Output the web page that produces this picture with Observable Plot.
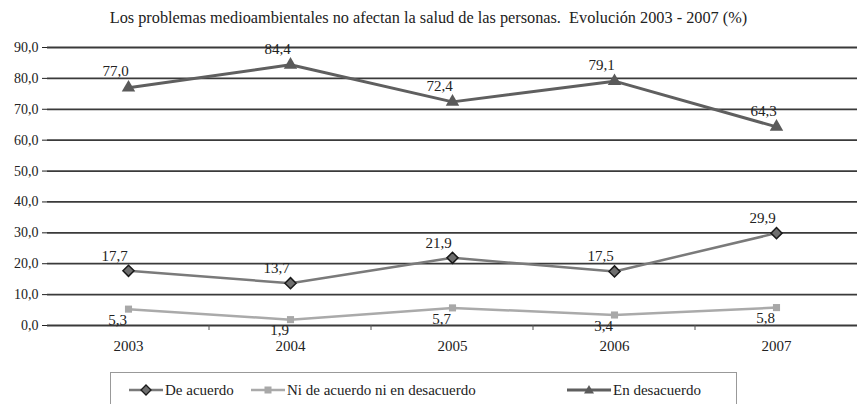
<!DOCTYPE html>
<html>
<head>
<meta charset="utf-8">
<script src="https://cdn.jsdelivr.net/npm/d3@7"></script>
<script src="https://cdn.jsdelivr.net/npm/@observablehq/plot@0.6"></script>
<style>
  body { margin: 0; background: #fff; font-family: 'Liberation Serif', serif; }
  #wrap { width: 857px; height: 404px; overflow: hidden; position: relative; }
  #title { height: 36px; line-height: 36px; text-align: center; font-size: 16.3px; color: #222; }
  #legend { position: absolute; left: 110px; top: 372px; width: 627px; height: 40px; border: 1px solid #999; box-sizing: border-box; font-size: 15px; color: #222; }
  .item { position: absolute; top: 8px; display: flex; align-items: center; }
  .item svg { margin-right: 2px; }
  svg text { font-family: 'Liberation Serif', serif; }
</style>
</head>
<body>
<div id="wrap">
  <div id="title">Los problemas medioambientales no afectan la salud de las personas.&nbsp; Evolución 2003 - 2007 (%)</div>
  <div id="chart"></div>
  <div id="legend"></div>
</div>
<script>
const years = ["2003", "2004", "2005", "2006", "2007"];
const seriesNames = ["De acuerdo", "Ni de acuerdo ni en desacuerdo", "En desacuerdo"];
const deAcuerdo = [17.7, 13.7, 21.9, 17.5, 29.9];
const niNi = [5.3, 1.9, 5.7, 3.4, 5.8];
const enDesacuerdo = [77.0, 84.4, 72.4, 79.1, 64.3];
const yTicks = [0, 10, 20, 30, 40, 50, 60, 70, 80, 90];

const styles = {
  "De acuerdo": {line: "#7a7a7a", width: 2.5, symbol: "diamond2", fill: "#6e6e6e", stroke: "#1a1a1a", r: 5, dx: -14, dy: -15},
  "Ni de acuerdo ni en desacuerdo": {line: "#aaaaaa", width: 2.5, symbol: "square", fill: "#a8a8a8", stroke: "none", r: 4, dx: -11, dy: 11},
  "En desacuerdo": {line: "#5f5f5f", width: 3, symbol: "triangle", fill: "#5a5a5a", stroke: "none", r: 5, dx: -13, dy: -16}
};
const valuesBySeries = [deAcuerdo, niNi, enDesacuerdo];
const rows = [];
seriesNames.forEach((s, i) => years.forEach((y, j) => rows.push({series: s, year: y, value: valuesBySeries[i][j]})));

const serif = "Liberation Serif, serif";
const fmt = v => v.toFixed(1).replace(".", ",");
const marks = [
  Plot.ruleY(yTicks, {stroke: "#3a3a3a", strokeWidth: 1.8}),
  Plot.ruleX([0], {frameAnchor: "left", stroke: "#3a3a3a"}),
];
seriesNames.forEach(s => {
  const st = styles[s];
  const data = rows.filter(d => d.series === s);
  marks.push(Plot.line(data, {x: "year", y: "value", stroke: st.line, strokeWidth: st.width}));
  marks.push(Plot.dot(data, {x: "year", y: "value", symbol: st.symbol, fill: st.fill, stroke: st.stroke, strokeWidth: 1.5, r: st.r}));
  marks.push(Plot.text(data, {x: "year", y: "value", text: d => fmt(d.value), dx: st.dx, dy: st.dy, fontSize: 15, fill: "#222", fontFamily: serif}));
});

const chart = Plot.plot({
  width: 857,
  height: 320,
  marginLeft: 47,
  marginRight: 0,
  marginTop: 11,
  marginBottom: 31,
  style: {fontFamily: serif, fontSize: "14px", color: "#222", background: "#fff"},
  x: {type: "band", domain: years, padding: 0, label: null, axis: null},
  y: {type: "linear", domain: [0, 90], ticks: yTicks, tickFormat: fmt, label: null, tickSize: 5, tickPadding: 4},
  marks: [
    ...marks,
    Plot.axisX({tickSize: 0, tickPadding: 15, fontSize: 15, fill: "#222"})
  ]
});
document.getElementById("chart").appendChild(chart);

// boundary ticks between categories on the x axis
const xs = chart.scale("x");
const svg = d3.select(chart);
const y0 = chart.scale("y").apply(0);
years.slice(1).forEach(y => {
  const xb = xs.apply(y);
  svg.append("line").attr("x1", xb).attr("x2", xb).attr("y1", y0).attr("y2", y0 + 5).attr("stroke", "#555");
});

// legend
const legend = document.getElementById("legend");
const positions = [18, 140, 456];
seriesNames.forEach((s, i) => {
  const st = styles[s];
  const div = document.createElement("div");
  div.className = "item";
  div.style.left = positions[i] + "px";
  const w = i === 2 ? 44 : 34;
  let sym = "";
  const cx = w / 2, cy = 9;
  if (st.symbol === "diamond2") sym = `<path d="M${cx},${cy-5} L${cx+5},${cy} L${cx},${cy+5} L${cx-5},${cy} Z" fill="${st.fill}" stroke="${st.stroke}" stroke-width="1.3"/>`;
  if (st.symbol === "square") sym = `<rect x="${cx-3.5}" y="${cy-3.5}" width="7" height="7" fill="${st.fill}"/>`;
  if (st.symbol === "triangle") sym = `<path d="M${cx},${cy-5} L${cx+5},${cy+3.5} L${cx-5},${cy+3.5} Z" fill="${st.fill}"/>`;
  div.innerHTML = `<svg width="${w}" height="18"><line x1="0" x2="${w}" y1="${cy}" y2="${cy}" stroke="${st.line}" stroke-width="${st.width}"/>${sym}</svg><span>${s}</span>`;
  legend.appendChild(div);
});
</script>
</body>
</html>
